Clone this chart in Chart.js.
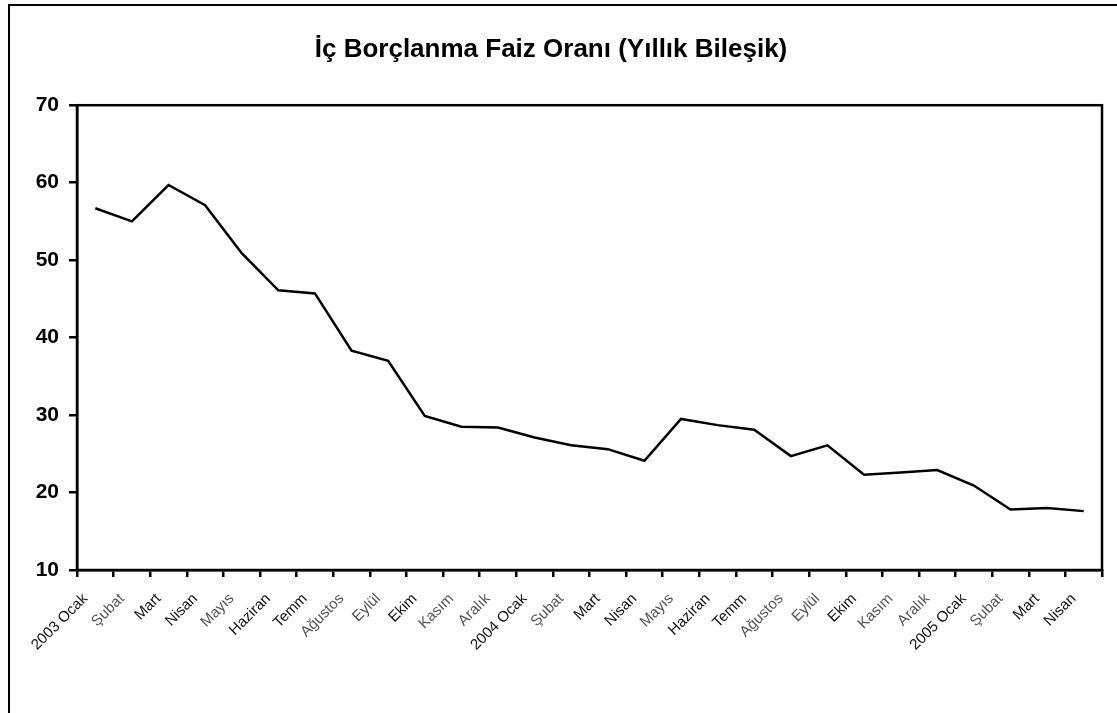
<!DOCTYPE html>
<html>
<head>
<meta charset="utf-8">
<script src="https://cdn.jsdelivr.net/npm/chart.js@4.4.1/dist/chart.umd.min.js"></script>
<style>
  html, body { margin: 0; padding: 0; background: #fff; overflow: hidden; }
  #wrap { position: relative; width: 1117px; height: 713px; }
  #frame { position: absolute; left: 8px; top: 4px; width: 1130px; height: 730px; border: 2px solid #000; pointer-events: none; }
</style>
</head>
<body>
<div id="wrap">
  <canvas id="c" width="1117" height="713"></canvas>
  <div id="frame"></div>
</div>
<script>
/* aylar (etiketler resimde kırpılmış haliyle) */
const aylar = [
  "2003 Ocak", "Şubat", "Mart", "Nisan", "Mayıs", "Haziran", "Temm", "Ağustos", "Eylül", "Ekim", "Kasım", "Aralık",
  "2004 Ocak", "Şubat", "Mart", "Nisan", "Mayıs", "Haziran", "Temm", "Ağustos", "Eylül", "Ekim", "Kasım", "Aralık",
  "2005 Ocak", "Şubat", "Mart", "Nisan",
];
const faiz = [
  56.7, 55.0, 59.7, 57.1, 50.9, 46.1, 45.7, 38.3, 37.0, 29.9, 28.5, 28.4,
  27.1, 26.1, 25.6, 24.1, 29.5, 28.7, 28.1, 24.7, 26.1, 22.3, 22.6, 22.9,
  20.9, 17.8, 18.0, 17.6,
];
const yMin = 10, yMax = 70, yStep = 10;
const baslik = "İç Borçlanma Faiz Oranı (Yıllık Bileşik)";

// resimde bazı ay adları grimsi çıkmış
const griAylar = ["Şubat", "Mayıs", "Ağustos", "Eylül", "Kasım", "Aralık"];

// çizim alanının etrafına kutu
const boxPlugin = {
  id: "box",
  afterDraw(chart) {
    const a = chart.chartArea, ctx = chart.ctx;
    ctx.save();
    ctx.strokeStyle = "#000";
    ctx.lineWidth = 2.5;
    ctx.strokeRect(a.left, a.top, a.right - a.left, a.bottom - a.top);
    ctx.restore();
  },
};

new Chart(document.getElementById("c"), {
  type: "line",
  data: {
    labels: aylar,
    datasets: [{
      data: faiz,
      borderColor: "#000",
      borderWidth: 2.5,
      pointRadius: 0,
      tension: 0,
      fill: false,
    }],
  },
  options: {
    responsive: false,
    animation: false,
    layout: { padding: { left: 0, right: 15, top: 0, bottom: 0 } },
    plugins: {
      legend: { display: false },
      tooltip: { enabled: false },
      title: {
        display: true,
        text: baslik,
        color: "#000",
        font: { family: "Arial, 'Liberation Sans', sans-serif", size: 26, weight: "bold" },
        padding: { top: 34, bottom: 40 },
      },
    },
    scales: {
      x: {
        offset: true,
        grid: { offset: true, drawOnChartArea: false, drawTicks: true, tickLength: 7, color: "#000", lineWidth: 2.5 },
        border: { display: true, color: "#000", width: 2.5 },
        ticks: {
          autoSkip: false, maxRotation: 45, minRotation: 45, padding: 13, labelOffset: -10,
          color: (c) => (griAylar.includes(aylar[c.index]) ? "#555" : "#111"),
          font: { family: "Arial, 'Liberation Sans', sans-serif", size: 15 },
        },
        afterFit(s) { s.height = 143; },
      },
      y: {
        min: yMin, max: yMax,
        grid: { drawOnChartArea: false, drawTicks: true, tickLength: 8, color: "#000", lineWidth: 2.5 },
        border: { display: true, color: "#000", width: 2.5 },
        ticks: {
          stepSize: yStep, padding: 10, color: "#000",
          font: { family: "Arial, 'Liberation Sans', sans-serif", size: 21, weight: "bold" },
        },
        afterFit(s) { s.width = 77; },
      },
    },
  },
  plugins: [boxPlugin],
});
</script>
</body>
</html>
